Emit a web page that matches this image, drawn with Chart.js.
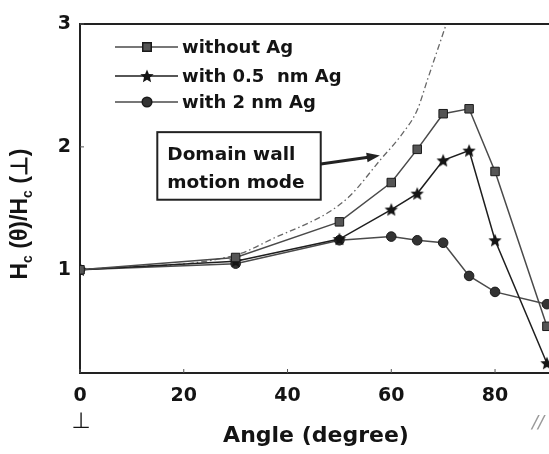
<!DOCTYPE html>
<html>
<head>
<meta charset="utf-8">
<title>Hc ratio vs angle</title>
<script src="https://cdn.jsdelivr.net/npm/chart.js@4.4.1/dist/chart.umd.min.js"></script>
<style>
html, body { margin: 0; padding: 0; background: #fff; }
#wrap { width: 549px; height: 454px; position: relative; }
</style>
</head>
<body>
<div id="wrap"><canvas id="hcChart"></canvas></div>
<script>
// measured points (angle in degrees, Hc(theta)/Hc(perp))
const angles = [0, 30, 50, 60, 65, 70, 75, 80, 90];
const withoutAg = [1.0, 1.1, 1.39, 1.71, 1.98, 2.27, 2.31, 1.8, 0.54];
const with05nmAg = [1.0, 1.07, 1.25, 1.49, 1.62, 1.89, 1.97, 1.24, 0.24];
const with2nmAg = [1.0, 1.05, 1.24, 1.27, 1.24, 1.22, 0.95, 0.82, 0.72];

// domain wall motion curve
const wallAngles = [0, 30, 38, 44, 48, 52, 58, 62, 65, 67, 69, 70.6];
const wallHc = [1.0, 1.12, 1.27, 1.38, 1.47, 1.6, 1.9, 2.1, 2.3, 2.55, 2.8, 3.0];

const seriesLabels = ['without Ag', 'with 0.5  nm Ag', 'with 2 nm Ag'];
const xTicks = [0, 20, 40, 60, 80];
const yTicks = [1, 2, 3];
const boxLines = ['Domain wall', 'motion mode'];

const INK = '#141414';
const BOLD = 'bold 18px "DejaVu Sans"';

function toPoints(xs, ys) {
    return xs.map((x, i) => ({ x: x, y: ys[i] }));
}

// filled five point star used as a marker
function starMarker(r) {
    const c = document.createElement('canvas');
    const s = Math.ceil(r * 2 + 2);
    c.width = s; c.height = s;
    const g = c.getContext('2d');
    g.translate(s / 2, s / 2 + 0.5);
    g.beginPath();
    for (let i = 0; i < 10; i++) {
        const rr = i % 2 ? r * 0.45 : r;
        const a = -Math.PI / 2 + i * Math.PI / 5;
        g.lineTo(rr * Math.cos(a), rr * Math.sin(a));
    }
    g.closePath();
    g.fillStyle = INK;
    g.fill();
    return c;
}
const star = starMarker(7);

const decor = {
    id: 'decor',
    afterDraw(chart) {
        const ctx = chart.ctx;
        const area = chart.chartArea;
        const xs = chart.scales.x, ys = chart.scales.y;
        ctx.save();

        // top frame line
        ctx.strokeStyle = '#222';
        ctx.lineWidth = 2;
        ctx.beginPath();
        ctx.moveTo(area.left, area.top);
        ctx.lineTo(area.right, area.top);
        ctx.stroke();

        // small inner tick marks
        ctx.lineWidth = 1;
        ctx.strokeStyle = '#555';
        xTicks.forEach(v => {
            const px = xs.getPixelForValue(v);
            ctx.beginPath(); ctx.moveTo(px, area.bottom); ctx.lineTo(px, area.bottom - 4); ctx.stroke();
        });
        yTicks.forEach(v => {
            const py = ys.getPixelForValue(v);
            ctx.beginPath(); ctx.moveTo(area.left, py); ctx.lineTo(area.left + 4, py); ctx.stroke();
        });

        ctx.fillStyle = INK;
        ctx.textBaseline = 'middle';

        // y axis title: Hc(θ)/Hc(⊥)
        const parts = [['H', 0], ['c', 1], [' (θ)/', 0], ['H', 0], ['c', 1], [' (⊥)', 0]];
        const big = 'bold 23px "Liberation Sans"', small = 'bold 14px "Liberation Sans"';
        let total = 0;
        parts.forEach(p => { ctx.font = p[1] ? small : big; total += ctx.measureText(p[0]).width; });
        ctx.save();
        ctx.translate(21, 214);
        ctx.rotate(-Math.PI / 2);
        let cx = -total / 2;
        ctx.textAlign = 'left';
        parts.forEach(p => {
            ctx.font = p[1] ? small : big;
            ctx.fillText(p[0], cx, p[1] ? 7 : 0);
            cx += ctx.measureText(p[0]).width;
        });
        ctx.restore();

        // x axis title and direction marks
        ctx.textAlign = 'center';
        ctx.font = 'bold 22px "DejaVu Sans"';
        ctx.fillText('Angle (degree)', 316, 436);
        ctx.font = '22px "DejaVu Sans"';
        ctx.fillText('⊥', xs.getPixelForValue(0) + 1, 422);
        ctx.fillStyle = '#999';
        ctx.font = 'italic 18px "DejaVu Sans"';
        ctx.textAlign = 'left';
        ctx.fillText('//', 532, 423);

        // legend
        const rows = [47, 76, 102];
        chart.data.datasets.slice(0, 3).forEach((ds, i) => {
            const y = rows[i];
            ctx.strokeStyle = ds.borderColor;
            ctx.lineWidth = 1.5;
            ctx.beginPath(); ctx.moveTo(115, y); ctx.lineTo(178, y); ctx.stroke();
            ctx.fillStyle = ds.pointBackgroundColor;
            ctx.strokeStyle = ds.pointBorderColor;
            Chart.helpers.drawPoint(ctx, {
                pointStyle: ds.pointStyle, radius: ds.pointRadius,
                rotation: 0, borderWidth: ds.pointBorderWidth
            }, 147, y);
            ctx.fillStyle = INK;
            ctx.font = BOLD;
            ctx.textAlign = 'left';
            ctx.fillText(ds.label, 182, y + 1);
        });

        // annotation box with arrow to the wall-motion curve
        const bx0 = xs.getPixelForValue(14.9), bx1 = xs.getPixelForValue(46.4);
        const by0 = ys.getPixelForValue(2.12), by1 = ys.getPixelForValue(1.57);
        ctx.strokeStyle = '#222';
        ctx.lineWidth = 2;
        ctx.strokeRect(bx0, by0, bx1 - bx0, by1 - by0);
        ctx.font = 'bold 18.5px "DejaVu Sans"';
        ctx.fillStyle = INK;
        ctx.fillText(boxLines[0], bx0 + 10, by0 + 23);
        ctx.fillText(boxLines[1], bx0 + 10, by0 + 51);

        const ax0 = bx1, ay0 = ys.getPixelForValue(1.86);
        const ax1 = xs.getPixelForValue(57.8), ay1 = ys.getPixelForValue(1.93);
        const ang = Math.atan2(ay1 - ay0, ax1 - ax0);
        ctx.lineWidth = 3;
        ctx.beginPath(); ctx.moveTo(ax0, ay0);
        ctx.lineTo(ax1 - 10 * Math.cos(ang), ay1 - 10 * Math.sin(ang)); ctx.stroke();
        ctx.beginPath();
        ctx.moveTo(ax1, ay1);
        ctx.lineTo(ax1 - 14 * Math.cos(ang - 0.35), ay1 - 14 * Math.sin(ang - 0.35));
        ctx.lineTo(ax1 - 14 * Math.cos(ang + 0.35), ay1 - 14 * Math.sin(ang + 0.35));
        ctx.closePath();
        ctx.fillStyle = '#222';
        ctx.fill();

        ctx.restore();
    }
};

const ctx = document.getElementById('hcChart');
new Chart(ctx, {
    type: 'line',
    data: {
        datasets: [{
            label: seriesLabels[0],
            data: toPoints(angles, withoutAg),
            borderColor: '#4a4a4a',
            borderWidth: 1.5,
            pointStyle: 'rect',
            pointRadius: 6,
            pointBackgroundColor: '#555',
            pointBorderColor: '#1a1a1a',
            pointBorderWidth: 1,
            fill: false
        }, {
            label: seriesLabels[1],
            data: toPoints(angles, with05nmAg),
            borderColor: '#1e1e1e',
            borderWidth: 1.5,
            pointStyle: star,
            pointRadius: 7,
            pointBackgroundColor: INK,
            pointBorderColor: INK,
            pointBorderWidth: 0,
            fill: false
        }, {
            label: seriesLabels[2],
            data: toPoints(angles, with2nmAg),
            borderColor: '#4a4a4a',
            borderWidth: 1.5,
            pointStyle: 'circle',
            pointRadius: 4.8,
            pointBackgroundColor: '#333',
            pointBorderColor: '#1a1a1a',
            pointBorderWidth: 1,
            fill: false
        }, {
            label: 'domain wall',
            data: toPoints(wallAngles, wallHc),
            borderColor: '#666',
            borderWidth: 1.3,
            borderDash: [6, 3, 1.5, 3],
            pointRadius: 0,
            cubicInterpolationMode: 'monotone',
            fill: false
        }]
    },
    options: {
        responsive: true,
        maintainAspectRatio: false,
        animation: false,
        layout: { autoPadding: false, padding: { top: 24, left: 0, right: 0, bottom: 0 } },
        scales: {
            x: {
                type: 'linear',
                min: 0,
                max: 90.4,
                afterBuildTicks: s => { s.ticks = xTicks.map(v => ({ value: v })); },
                afterFit: s => { s.height = 81; s.paddingLeft = 0; s.paddingRight = 0; },
                grid: { display: false, drawTicks: false },
                border: { color: '#222', width: 2 },
                ticks: { color: INK, padding: 12, font: { family: 'DejaVu Sans', size: 19, weight: 'bold' } }
            },
            y: {
                min: 0.16,
                max: 3,
                afterBuildTicks: s => { s.ticks = yTicks.map(v => ({ value: v })); },
                afterFit: s => { s.width = 80; },
                grid: { display: false, drawTicks: false },
                border: { color: '#222', width: 2 },
                ticks: { color: INK, padding: 9, font: { family: 'DejaVu Sans', size: 19, weight: 'bold' } }
            }
        },
        plugins: {
            legend: { display: false },
            tooltip: { enabled: false }
        }
    },
    plugins: [decor]
});
</script>
</body>
</html>
